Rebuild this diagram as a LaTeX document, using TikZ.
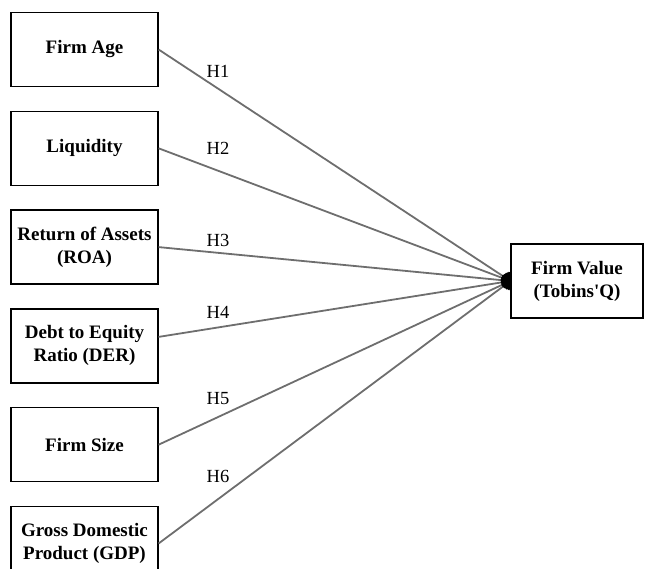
\documentclass[tikz,border=0pt]{standalone}
\usepackage{fontspec}
\setmainfont{Liberation Serif}
\usetikzlibrary{arrows.meta,positioning}
\definecolor{linegray}{HTML}{6E6E6E}

\begin{document}
\begin{tikzpicture}[
  x=1pt, y=-1pt,
  node distance=23.6pt,
  var/.style={draw, line width=1.2pt, align=center, minimum width=147pt, minimum height=74pt, inner sep=2pt, font=\bfseries\fontsize{19}{23}\selectfont},
  hyp/.style={inner sep=0pt, font=\fontsize{18.5}{22}\selectfont},
  link/.style={draw=linegray, line width=1.8pt, -{Diamond[color=black, length=10pt, width=16pt]}}
]
\useasboundingbox (0,0) rectangle (645,569);
\node[var] (age) at (84.5,49.5) {Firm Age};
\node[var, below=of age] (liq) {Liquidity};
\node[var, below=of liq] (roa) {Return of Assets\\(ROA)};
\node[var, below=of roa] (der) {Debt to Equity\\Ratio (DER)};
\node[var, below=of der] (size) {Firm Size};
\node[var, below=of size] (gdp) {Gross Domestic\\Product (GDP)};
\node[var, minimum width=132pt] (tq) at (577,281) {Firm Value\\(Tobins\textquotesingle Q)};
% hypothesis labels
\node[hyp] (h1) at (218,71) {H1};
\node[hyp] (h2) at (218,148) {H2};
\node[hyp] (h3) at (218,240) {H3};
\node[hyp] (h4) at (218,312) {H4};
\node[hyp] (h5) at (218,399) {H5};
\node[hyp] (h6) at (218,476) {H6};
\draw[link] (age.east) -- (tq.west);
\draw[link] (liq.east) -- (tq.west);
\draw[link] (roa.east) -- (tq.west);
\draw[link] ([yshift=9pt]der.east) -- (tq.west);
\draw[link] (size.east) -- (tq.west);
\draw[link] (gdp.east) -- (tq.west);
\end{tikzpicture}
\end{document}
